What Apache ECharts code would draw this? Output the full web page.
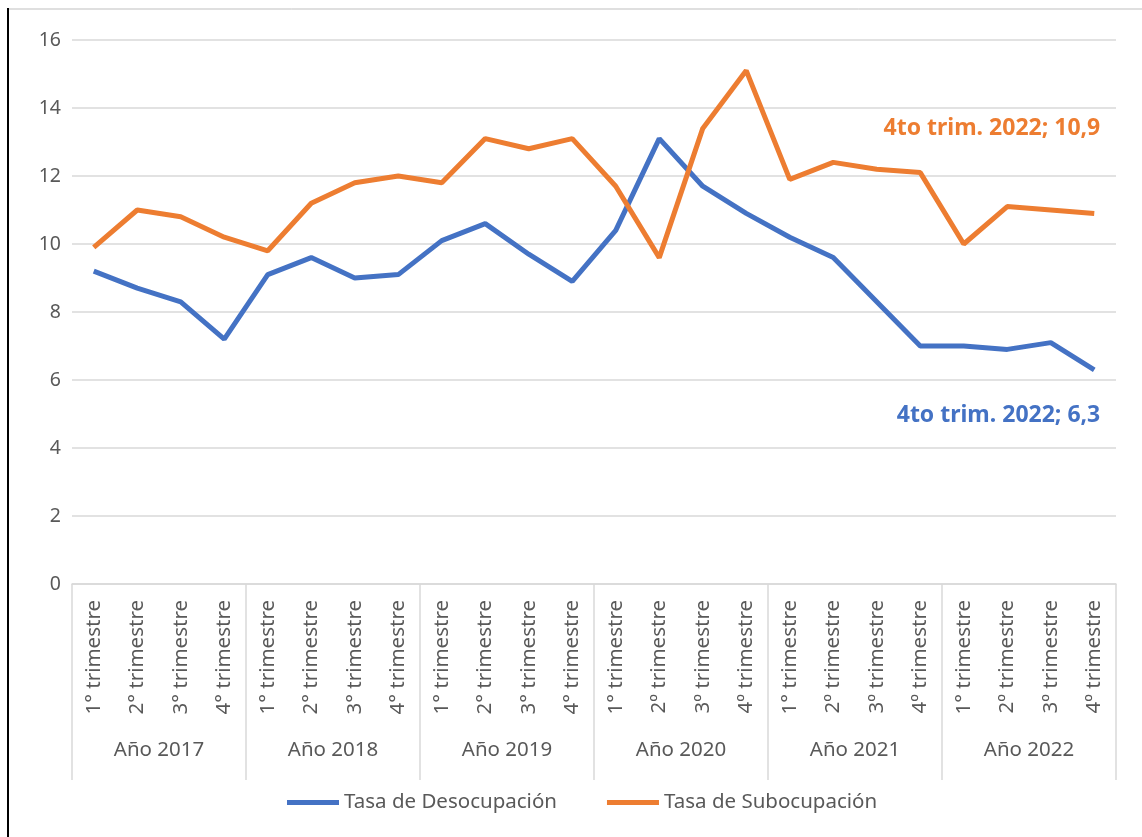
<!DOCTYPE html>
<html>
<head>
<meta charset="utf-8">
<script src="https://cdn.jsdelivr.net/npm/echarts@6/dist/echarts.min.js"></script>
<style>
  html, body { margin: 0; padding: 0; background: #fff; }
  #chart { width: 1142px; height: 837px; }
</style>
</head>
<body>
<div id="chart"></div>
<script>
const quarters = [
  '1° trimestre', '2° trimestre', '3° trimestre', '4° trimestre',
  '1° trimestre', '2° trimestre', '3° trimestre', '4° trimestre',
  '1° trimestre', '2° trimestre', '3° trimestre', '4° trimestre',
  '1° trimestre', '2º trimestre', '3º trimestre', '4º trimestre',
  '1° trimestre', '2º trimestre', '3º trimestre', '4º trimestre',
  '1° trimestre', '2º trimestre', '3º trimestre', '4º trimestre'
];
const years = ['Año 2017', 'Año 2018', 'Año 2019', 'Año 2020', 'Año 2021', 'Año 2022'];

const desocupacion = [
  9.2, 8.7, 8.3, 7.2,
  9.1, 9.6, 9.0, 9.1,
  10.1, 10.6, 9.7, 8.9,
  10.4, 13.1, 11.7, 10.9,
  10.2, 9.6, 8.3, 7.0,
  7.0, 6.9, 7.1, 6.3
];
const subocupacion = [
  9.9, 11.0, 10.8, 10.2,
  9.8, 11.2, 11.8, 12.0,
  11.8, 13.1, 12.8, 13.1,
  11.7, 9.6, 13.4, 15.1,
  11.9, 12.4, 12.2, 12.1,
  10.0, 11.1, 11.0, 10.9
];
const lastLabel = '4to trim. 2022';

const FONT = '"Noto Sans", sans-serif';
const GRAY = '#595959';
const GRID = '#d9d9d9';

const chart = echarts.init(document.getElementById('chart'));

const fmtEnd = (p) => lastLabel + '; ' + String(p.value).replace('.', ',');

chart.setOption({
  animation: false,
  textStyle: { fontFamily: FONT },
  grid: { left: 72, right: 26, top: 40, bottom: 253, containLabel: false },
  legend: {
    left: 282,
    top: 787,
    itemWidth: 52,
    itemHeight: 5,
    itemGap: 50,
    icon: 'rect',
    textStyle: { fontFamily: FONT, fontSize: 20.5, color: GRAY },
    data: ['Tasa de Desocupación', 'Tasa de Subocupación']
  },
  xAxis: [
    {
      type: 'category',
      data: quarters,
      axisLine: { lineStyle: { color: GRID, width: 1.5 } },
      axisTick: { show: false },
      axisLabel: {
        interval: 0, rotate: 90, margin: 16,
        fontFamily: FONT, fontSize: 20.5, color: GRAY
      }
    },
    {
      type: 'category',
      data: years,
      position: 'bottom',
      axisLine: { show: false },
      axisTick: { show: true, length: 196, interval: 0, lineStyle: { color: GRID, width: 1.5 } },
      axisLabel: {
        interval: 0, margin: 156,
        fontFamily: FONT, fontSize: 20.5, color: GRAY
      }
    }
  ],
  yAxis: {
    type: 'value',
    min: 0, max: 16, interval: 2,
    axisLine: { show: false },
    axisTick: { show: false },
    splitLine: { lineStyle: { color: GRID, width: 1.5 } },
    axisLabel: { margin: 11, fontFamily: FONT, fontSize: 19.5, color: GRAY }
  },
  series: [
    {
      name: 'Tasa de Desocupación',
      type: 'line',
      data: desocupacion,
      showSymbol: false,
      color: '#4472C4',
      lineStyle: { width: 5, color: '#4472C4' },
      endLabel: {
        show: true,
        formatter: fmtEnd,
        align: 'right',
        verticalAlign: 'middle',
        offset: [-2, 46],
        color: '#4472C4',
        fontWeight: 'bold',
        fontSize: 23,
        fontFamily: FONT
      }
    },
    {
      name: 'Tasa de Subocupación',
      type: 'line',
      data: subocupacion,
      showSymbol: false,
      color: '#ED7D31',
      lineStyle: { width: 5, color: '#ED7D31' },
      endLabel: {
        show: true,
        formatter: fmtEnd,
        align: 'right',
        verticalAlign: 'middle',
        offset: [-2, -85],
        color: '#ED7D31',
        fontWeight: 'bold',
        fontSize: 23,
        fontFamily: FONT
      }
    }
  ],
  graphic: [
    { type: 'line', shape: { x1: 8, y1: 9, x2: 1142, y2: 9 }, style: { stroke: '#bfbfbf', lineWidth: 1 } },
    { type: 'line', shape: { x1: 8, y1: 8, x2: 8, y2: 837 }, style: { stroke: '#000', lineWidth: 2 } }
  ]
});
</script>
</body>
</html>
